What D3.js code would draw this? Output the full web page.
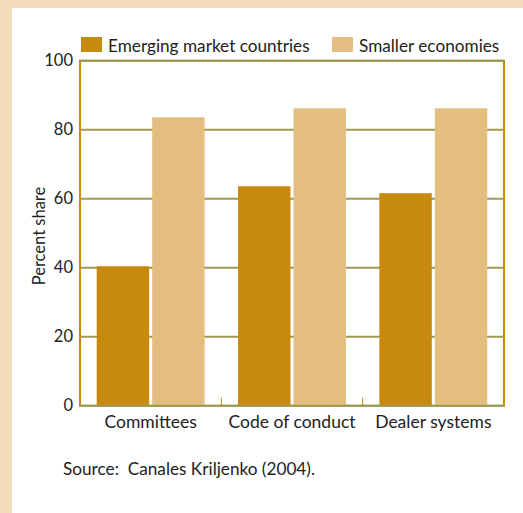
<!DOCTYPE html>
<html><head><meta charset="utf-8">
<script src="https://cdn.jsdelivr.net/npm/d3@7"></script>
<style>body{margin:0;background:#f2dcb9;}svg{display:block;}</style>
</head><body>
<script>
const categories = ["Committees", "Code of conduct", "Dealer systems"];
const seriesNames = ["Emerging market countries", "Smaller economies"];
const emerging = [40.4, 63.6, 61.6];
const smaller = [83.6, 86.2, 86.2];
const yTicks = [0, 20, 40, 60, 80, 100];
const colors = ["#c8890f", "#e4bd80"];

const W = 523, H = 513;
const font = "Lato, 'Open Sans', sans-serif";
const svg = d3.select("body").append("svg").attr("width", W).attr("height", H);
svg.append("rect").attr("width", W).attr("height", H).attr("fill", "#f2dcb9");
svg.append("rect").attr("x", 12).attr("y", 8).attr("width", W - 12).attr("height", H - 8).attr("fill", "#fff");

const L = 80, R = 504, T = 60.7, B = 405.7;
const x = d3.scaleBand().domain(categories).range([L, R]).paddingInner(0).paddingOuter(0);
const y = d3.scaleLinear().domain([0, 100]).range([B, T]);
const xs = d3.scaleBand().domain(seriesNames).range([16.7, x.bandwidth() - 16.7]).paddingInner(6 / 108);

// gridlines
const g = svg.append("g");
g.selectAll("line.grid").data(yTicks).join("line")
  .attr("x1", L).attr("x2", R).attr("y1", d => y(d)).attr("y2", d => y(d))
  .attr("stroke", "#9d9a52").attr("stroke-width", 2);

// bars
const data = categories.map((c, i) => ({c, vals: [emerging[i], smaller[i]]}));
const grp = svg.append("g").selectAll("g").data(data).join("g")
  .attr("transform", d => `translate(${x(d.c)},0)`);
grp.selectAll("rect").data(d => d.vals.map((v, j) => ({v, s: seriesNames[j], j}))).join("rect")
  .attr("x", d => xs(d.s)).attr("width", xs.bandwidth())
  .attr("y", d => y(d.v)).attr("height", d => B - y(d.v))
  .attr("fill", d => colors[d.j]);

// axis frame
svg.append("line").attr("x1", L).attr("x2", L).attr("y1", T - 1).attr("y2", B + 1).attr("stroke", "#c8890f").attr("stroke-width", 2);
svg.append("line").attr("x1", R).attr("x2", R).attr("y1", T - 1).attr("y2", B + 1).attr("stroke", "#c8890f").attr("stroke-width", 2);
svg.append("line").attr("x1", L).attr("x2", R).attr("y1", B).attr("y2", B).attr("stroke", "#9d9a52").attr("stroke-width", 2);
svg.append("line").attr("x1", L).attr("x2", R).attr("y1", T).attr("y2", T).attr("stroke", "#9d9a52").attr("stroke-width", 2);
// category separators ticks
svg.selectAll("line.sep").data(categories.slice(1)).join("line")
  .attr("x1", d => x(d)).attr("x2", d => x(d)).attr("y1", B - 8).attr("y2", B)
  .attr("stroke", "#c8890f").attr("stroke-width", 1);

// y axis labels
const ya = svg.append("g").attr("transform", `translate(${L},0)`)
  .call(d3.axisLeft(y).tickValues(yTicks).tickSize(0).tickPadding(7));
ya.select(".domain").remove();
ya.selectAll("text").attr("font-family", font).attr("font-size", 16.5).attr("fill", "#222");

// x axis labels
const xa = svg.append("g").attr("transform", `translate(0,${B})`)
  .call(d3.axisBottom(x).tickSize(0).tickPadding(10));
xa.select(".domain").remove();
xa.selectAll("text").attr("font-family", font).attr("font-size", 17.5).attr("fill", "#222");

// y title
svg.append("text").attr("transform", `translate(45,236) rotate(-90)`).attr("text-anchor", "middle")
  .attr("font-family", font).attr("font-size", 16.5).attr("fill", "#222").text("Percent share");

// legend
const legX = [81, 332];
seriesNames.forEach((s, i) => {
  svg.append("rect").attr("x", legX[i]).attr("y", 37).attr("width", 21).attr("height", 15).attr("fill", colors[i]);
  svg.append("text").attr("x", legX[i] + 27).attr("y", 51.5).attr("font-family", font).attr("font-size", 17.2)
    .attr("fill", "#222").text(s);
});

// source
svg.append("text").attr("x", 63).attr("y", 475).attr("font-family", font).attr("font-size", 17.2)
  .attr("fill", "#222").attr("xml:space", "preserve").style("white-space", "pre").text("Source:  Canales Kriljenko (2004).");
</script>
</body></html>
